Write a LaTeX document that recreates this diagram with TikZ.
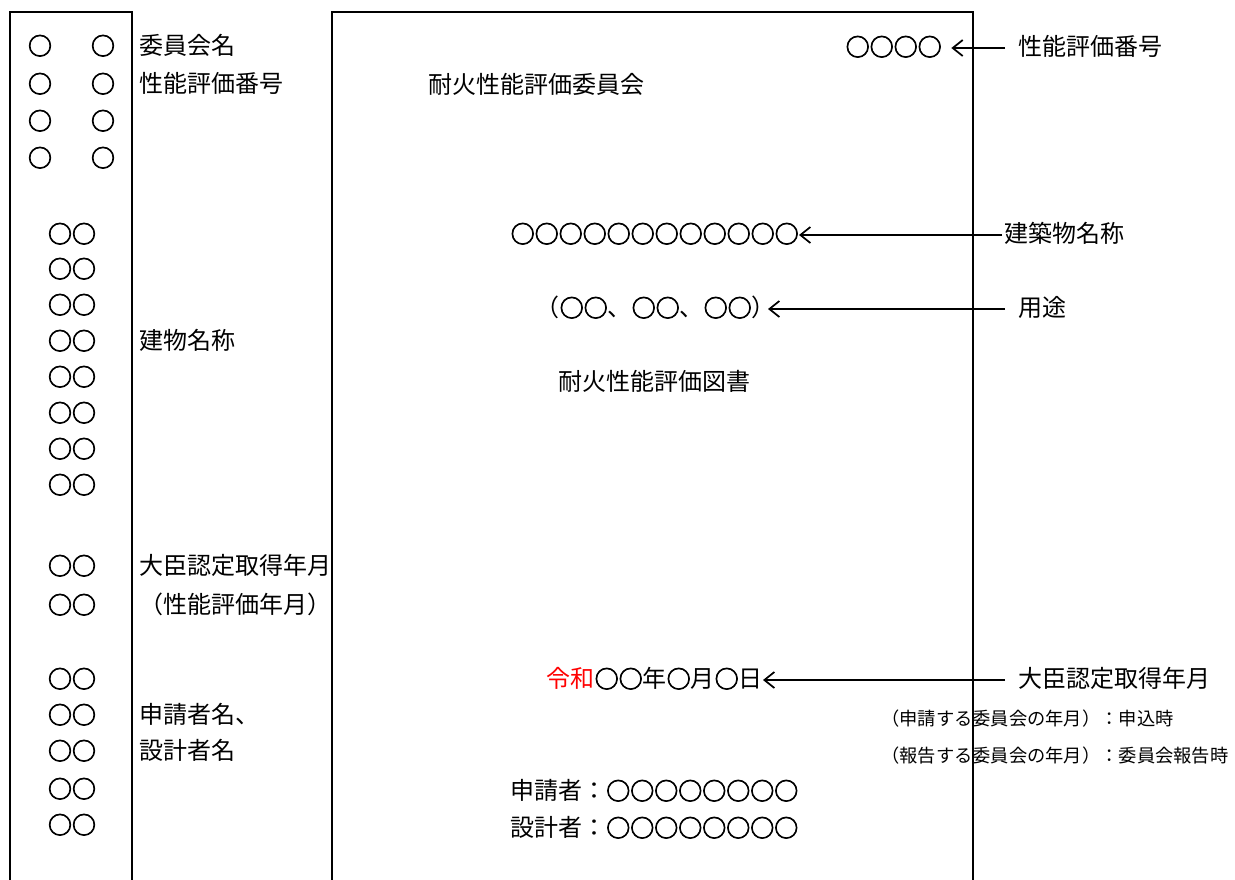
\documentclass[tikz,border=0pt]{standalone}
\usepackage{fontspec}
\setmainfont{Noto Sans CJK JP}
\newfontfamily\circfont{Noto Sans CJK JP}[FakeBold=3]
\newcommand\myO{{\circfont ○}}
\usetikzlibrary{arrows.meta}
\begin{document}
\begin{tikzpicture}[x=0.75pt,y=-0.75pt,
  txt/.style={font=\fontsize{18pt}{22pt}\selectfont, inner sep=0pt, text height=1.3em, text depth=0.12em},
  sml/.style={font=\fontsize{13.7pt}{17pt}\selectfont, inner sep=0pt, text height=1.3em, text depth=0.12em},
  lbl/.style={txt, anchor=west, inner xsep=9.75pt},
  frame/.style={line width=1.5pt},
  arr/.style={line width=1.5pt, -{Straight Barb[length=7.5pt,width=12pt,line width=1.3pt]}}]
\useasboundingbox (0,0) rectangle (1235,879);
% frames
\draw[frame] (10,885) -- (10,12) -- (132,12) -- (132,885);
\draw[frame] (332,885) -- (332,12) -- (973,12) -- (973,885);
% left column circles
\foreach \y [count=\i] in {47,85,122,159} {
  \node[txt] (la\i) at (40,\y) {\myO};
  \node[txt] (lb\i) at (103,\y) {\myO};
}
\foreach \y [count=\i] in {235,270,306,342,378,414,450,486,567,606,680,716,752,790,826} {
  \node[txt] (lc\i) at (72,\y) {\myO\myO};
}
% left labels
\node[txt,anchor=west] (l1) at (139,47) {委員会名};
\node[txt,anchor=west] (l2) at (139,85) {性能評価番号};
\node[txt,anchor=west] (l3) at (139,342) {建物名称};
\node[txt,anchor=west] (l4) at (139,567) {大臣認定取得年月};
\node[txt,anchor=west] (l5) at (139,606) {（性能評価年月）};
\node[txt,anchor=west] (l6) at (139,716) {申請者名、};
\node[txt,anchor=west] (l7) at (139,752) {設計者名};
% middle
\node[txt,anchor=east] (v1) at (942,48) {\myO\myO\myO\myO};
\node[txt,anchor=west] (m1) at (428,86) {耐火性能評価委員会};
\node[txt,anchor=east] (v2) at (799,235) {\myO\myO\myO\myO\myO\myO\myO\myO\myO\myO\myO\myO};
\node[txt,anchor=east] (v3) at (776,309) {（\myO\myO、\myO\myO、\myO\myO）};
\node[txt,anchor=west] (m2) at (558,383) {耐火性能評価図書};
\node[txt,anchor=east] (v4) at (763,680) {\textcolor{red}{令和}\myO\myO 年\myO 月\myO 日};
\node[txt,anchor=west] (m3) at (510,792) {申請者：\myO\myO\myO\myO\myO\myO\myO\myO};
\node[txt,anchor=west] (m4) at (510,829) {設計者：\myO\myO\myO\myO\myO\myO\myO\myO};
% right labels
\node[lbl] (r1) at (1005,48) {性能評価番号};
\node[lbl,inner xsep=1.5pt] (r2) at (1002,235) {建築物名称};
\node[lbl] (r3) at (1005,309) {用途};
\node[lbl] (r4) at (1005,680) {大臣認定取得年月};
\node[sml,anchor=west] (n1) at (881,718) {（申請する委員会の年月）：申込時};
\node[sml,anchor=west] (n2) at (881,755) {（報告する委員会の年月）：委員会報告時};
% arrows
\draw[arr] (r1.west) -- ([xshift=7pt]v1.east);
\draw[arr] (r2.west) -- (v2.east);
\draw[arr] (r3.west) -- ([xshift=-6pt]v3.east);
\draw[arr] (r4.west) -- (v4.east);
\end{tikzpicture}
\end{document}
